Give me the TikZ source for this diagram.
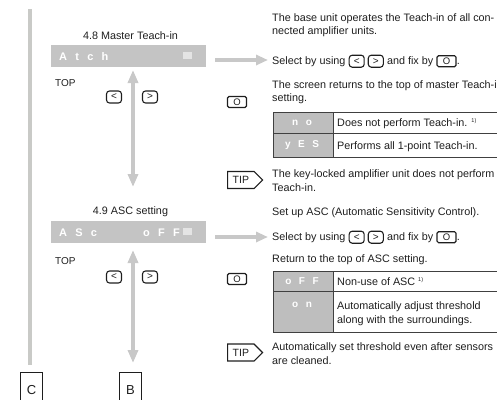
\documentclass[tikz,border=0pt]{standalone}
\usepackage{fontspec}
\setmainfont{Liberation Sans}
\newfontfamily\lcdfont{Liberation Sans}[LetterSpace=75]
\newfontfamily\cellfont{Liberation Sans}[LetterSpace=75]
\usetikzlibrary{arrows.meta,shapes.symbols}
\definecolor{lcdgray}{HTML}{C4C4C4}
\definecolor{arrgray}{HTML}{C8C8C8}
\definecolor{bargray}{HTML}{C9CAC7}
\definecolor{cellgray}{HTML}{BEBEBE}
\definecolor{ink}{HTML}{1E1E1E}
\definecolor{sqgray}{HTML}{E4E4E4}
\begin{document}
\begin{tikzpicture}[x=1pt,y=-1pt,
 txt/.style={inner sep=0pt, text=ink, font=\fontsize{10.8}{13.5}\selectfont, anchor=base west},
 ttl/.style={inner sep=0pt, text=ink, font=\fontsize{10.8}{13}\selectfont, anchor=base},
 toptxt/.style={inner sep=0pt, text=ink, font=\fontsize{10}{10}\selectfont, anchor=base west},
 lcd/.style={inner sep=0pt, text=white, font=\lcdfont\bfseries\fontsize{11}{11}\selectfont, anchor=base west},
 celltxt/.style={inner sep=0pt, text=white, font=\cellfont\bfseries\fontsize{10}{10}\selectfont},
 lcdbar/.style={fill=lcdgray, draw=none, minimum width=155pt, minimum height=22pt, inner sep=0pt, anchor=north west},
 keyc/.style={draw=ink, line width=1.1pt, rounded corners=3pt, minimum width=15pt, minimum height=12pt, inner sep=0pt, text=ink, font=\fontsize{10}{10}\selectfont},
 keyo/.style={draw=ink, line width=1.1pt, rounded corners=1.5pt, minimum width=19pt, minimum height=11pt, inner sep=0pt, text=ink, font=\fontsize{9.5}{9.5}\selectfont},
 tipbox/.style={signal, signal to=east, draw=ink, line width=1.2pt, minimum width=35pt, minimum height=17pt, inner sep=1pt, text=ink, font=\fontsize{10.5}{10.5}\selectfont, anchor=west},
 bigarr/.style={draw=arrgray, line width=4pt},
 tabline/.style={draw=ink!85, line width=0.9pt},
 letterbox/.style={draw=ink, line width=1pt, minimum width=22pt, minimum height=36pt, anchor=north west, inner sep=0pt, font=\fontsize{13}{13}\selectfont, text=ink}
]
\useasboundingbox (0,0) rectangle (497,399);
% left side bar
\fill[bargray] (28,9) rectangle (32,365);

% ===== Section 4.8 =====
\node[ttl] (t48) at (130.5,39) {4.8 Master Teach-in};
\node[lcdbar] (bar1) at (51,45) {};
\node[lcd] (atch) at (59,60) {Atch};
\fill[sqgray] (183,52) rectangle (192,59);
\node[toptxt] (top1) at (55,86) {TOP};
\node[keyc] (k1l) at (114,97) {<};
\node[keyc] (k1r) at (150,97) {>};
\coordinate (v1t) at (133,70);
\coordinate (v1b) at (133,187);
\draw[bigarr, {Triangle[width=10pt,length=13pt]}-{Triangle[width=10pt,length=13pt]}] (v1t) -- (v1b);
\node[keyo] (k1o) at (237,102) {O};
\node[tipbox] (tip1) at (227,180) {TIP};

\node[txt] (d1a) at (272,21) {The base unit operates the Teach-in of all con-};
\node[txt] (d1b) at (272,34) {nected amplifier units.};
\node[txt] (sel1) at (272,64) {Select by using};
\node[keyc, anchor=west] (s1l) at ([xshift=3pt]sel1.east) {<};
\node[keyc, anchor=west] (s1r) at ([xshift=3pt]s1l.east) {>};
\node[txt] (fix1) at ([xshift=3pt]s1r.east |- sel1.base) {and fix by};
\node[keyo, anchor=west] (s1o) at ([xshift=3pt]fix1.east) {O};
\node[txt] (dot1) at (s1o.east |- sel1.base) {.};
\coordinate (a1) at (215,60);
\draw[bigarr, -{Triangle[width=10pt,length=12pt]}, shorten >=4pt] (a1) -- (a1 -| sel1.west);
\node[txt] (r1a) at (272,88) {The screen returns to the top of master Teach-in};
\node[txt] (r1b) at (272,101.5) {setting.};
% table 1
\fill[cellgray] (273,112) rectangle (333,157);
\draw[tabline] (273,112) rectangle (520,157);
\draw[tabline] (273,133) -- (520,133);
\draw[tabline] (333,112) -- (333,157);
\node[celltxt] (c1a) at (302,122.5) {no};
\node[celltxt] (c1b) at (302,145) {yES};
\node[txt] (c1c) at (337,126) {Does not perform Teach-in. \textsuperscript{\fontsize{5.5}{5.5}\selectfont 1)}};
\node[txt] (c1d) at (337,149) {Performs all 1-point Teach-in.};
\node[txt] (p1a) at (272,177) {The key-locked amplifier unit does not perform};
\node[txt] (p1b) at (272,191) {Teach-in.};

% ===== Section 4.9 =====
\node[ttl] (t49) at (130.5,214) {4.9 ASC setting};
\node[lcdbar] (bar2) at (51,221) {};
\node[lcd] (asc) at (59,236) {ASc};
\node[lcd] (off) at (143,236) {oFF};
\fill[sqgray] (183,228) rectangle (192,235);
\node[toptxt] (top2) at (55,264) {TOP};
\node[keyc] (k2l) at (114,277) {<};
\node[keyc] (k2r) at (150,277) {>};
\coordinate (v2t) at (133,250);
\coordinate (v2b) at (133,363);
\draw[bigarr, {Triangle[width=10pt,length=13pt]}-{Triangle[width=10pt,length=13pt]}] (v2t) -- (v2b);
\node[keyo] (k2o) at (237,279) {O};
\node[tipbox] (tip2) at (227,352.5) {TIP};

\node[txt] (d2a) at (272,215) {Set up ASC (Automatic Sensitivity Control).};
\node[txt] (sel2) at (272,240) {Select by using};
\node[keyc, anchor=west] (s2l) at ([xshift=3pt]sel2.east) {<};
\node[keyc, anchor=west] (s2r) at ([xshift=3pt]s2l.east) {>};
\node[txt] (fix2) at ([xshift=3pt]s2r.east |- sel2.base) {and fix by};
\node[keyo, anchor=west] (s2o) at ([xshift=3pt]fix2.east) {O};
\node[txt] (dot2) at (s2o.east |- sel2.base) {.};
\coordinate (a2) at (215,237);
\draw[bigarr, -{Triangle[width=10pt,length=12pt]}, shorten >=4pt] (a2) -- (a2 -| sel2.west);
\node[txt] (r2a) at (272,262) {Return to the top of ASC setting.};
% table 2
\fill[cellgray] (273,271) rectangle (333,332);
\draw[tabline] (273,271) rectangle (520,332);
\draw[tabline] (273,291) -- (520,291);
\draw[tabline] (333,271) -- (333,332);
\node[celltxt] (c2a) at (302,281) {oFF};
\node[celltxt] (c2b) at (302,304.5) {on};
\node[txt] (c2c) at (337,285) {Non-use of ASC \textsuperscript{\fontsize{5.5}{5.5}\selectfont 1)}};
\node[txt] (c2d) at (337,309) {Automatically adjust threshold};
\node[txt] (c2e) at (337,323.5) {along with the surroundings.};
\node[txt] (p2a) at (272,350) {Automatically set threshold even after sensors};
\node[txt] (p2b) at (272,364) {are cleaned.};

% bottom letter boxes
\node[letterbox] (boxc) at (20,372) {C};
\node[letterbox] (boxb) at (119,372) {B};
\end{tikzpicture}
\end{document}
